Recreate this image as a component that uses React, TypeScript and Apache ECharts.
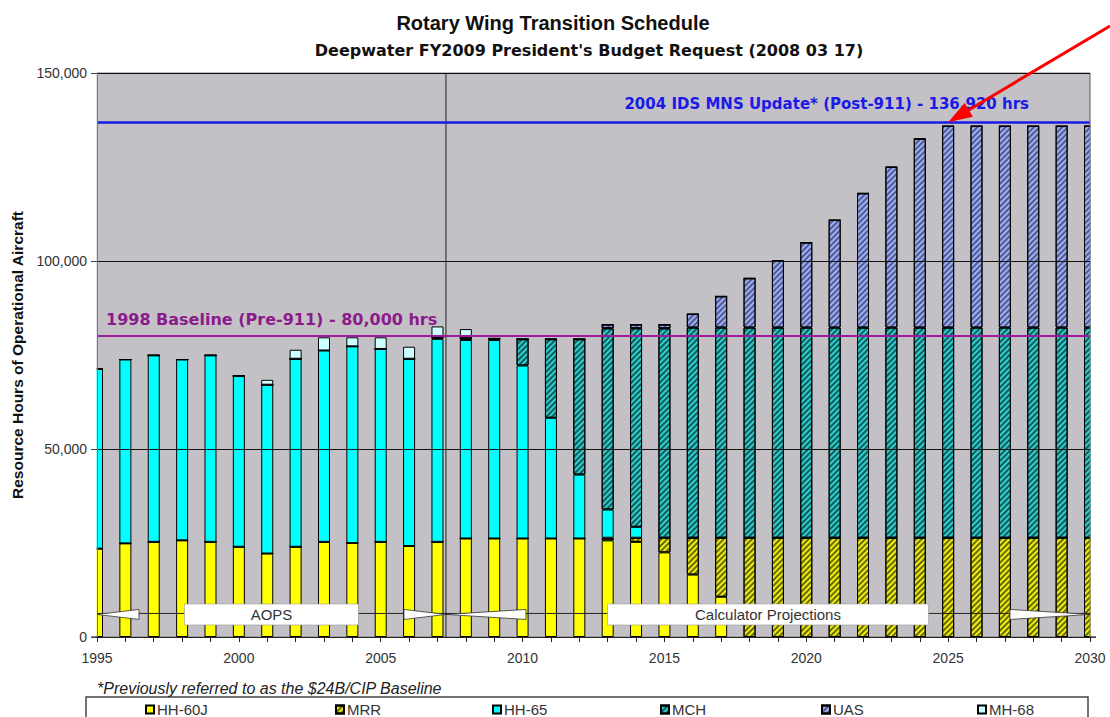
import { useEffect, useRef } from "react";
import * as echarts from "echarts";

const years = [
  1995, 1996, 1997, 1998, 1999, 2000, 2001, 2002, 2003, 2004, 2005, 2006,
  2007, 2008, 2009, 2010, 2011, 2012, 2013, 2014, 2015, 2016, 2017, 2018,
  2019, 2020, 2021, 2022, 2023, 2024, 2025, 2026, 2027, 2028, 2029, 2030,
];

const hh60j = [
  23500, 24900, 25300, 25700, 25300, 24000, 22200, 24000, 25300, 25000, 25300, 24200,
  25300, 26200, 26200, 26200, 26200, 26200, 25700, 25300, 22500, 16600, 10700, 0,
  0, 0, 0, 0, 0, 0, 0, 0, 0, 0, 0, 0,
];
const mrr = [
  0, 0, 0, 0, 0, 0, 0, 0, 0, 0, 0, 0,
  0, 0, 0, 0, 0, 0, 700, 1100, 3900, 9800, 15700, 26400,
  26400, 26400, 26400, 26400, 26400, 26400, 26400, 26400, 26400, 26400, 26400, 26400,
];
const hh65 = [
  47800, 48900, 49600, 48100, 49600, 45400, 44900, 50000, 50900, 52300, 51300, 49800,
  54000, 52800, 52800, 46000, 32100, 17000, 7500, 2900, 0, 0, 0, 0,
  0, 0, 0, 0, 0, 0, 0, 0, 0, 0, 0, 0,
];
const mch = [
  0, 0, 0, 0, 0, 0, 0, 0, 0, 0, 0, 0,
  400, 600, 400, 7000, 20900, 36000, 48200, 52800, 55700, 55900, 55900, 55900,
  55900, 55900, 55900, 55900, 55900, 55900, 55900, 55900, 55900, 55900, 55900, 55900,
];
const uas = [
  0, 0, 0, 0, 0, 0, 0, 0, 0, 0, 0, 0,
  0, 0, 0, 0, 0, 0, 1000, 1000, 1000, 3600, 8300, 13100,
  17800, 22600, 28600, 35700, 42700, 50200, 53600, 53600, 53600, 53600, 53600, 53600,
];
const mh68 = [
  0, 0, 0, 0, 0, 0, 1300, 2400, 3500, 2400, 3100, 3200,
  2900, 2300, 0, 0, 0, 0, 0, 0, 0, 0, 0, 0,
  0, 0, 0, 0, 0, 0, 0, 0, 0, 0, 0, 0,
];

const seriesNames = ["HH-60J", "MRR", "HH-65", "MCH", "UAS", "MH-68"];
const baselineValue = 80000;
const baselineText = "1998 Baseline (Pre-911) - 80,000 hrs";
const mnsValue = 136920;
const mnsText = "2004 IDS MNS Update* (Post-911) - 136,920 hrs";
const phaseBoundary = 2007.3;
const phaseNames = ["AOPS", "Calculator Projections"];
const phaseStarts = [1995, 2007.3];
const phaseEnds = [2007.3, 2030];
const phaseLevel = 6000;
const arrowTarget = [2025, 136920];
const footnote = "*Previously referred to as the $24B/CIP Baseline";

const FONT = "'Liberation Sans', Arial, sans-serif";
const BOLD2 = "'DejaVu Sans', Verdana, sans-serif";

function hatch(color: string) {
  return {
    symbol: "rect",
    symbolSize: 1,
    color,
    dashArrayX: [1, 0],
    dashArrayY: [1.2, 2],
    rotation: -Math.PI / 4,
  };
}

export default function App() {
  const ref = useRef<HTMLDivElement>(null);

  useEffect(() => {
    const chart = echarts.init(ref.current as HTMLDivElement, null, { renderer: "svg" });
    const values = [hh60j, mrr, hh65, mch, uas, mh68];
    const styles: any[] = [
      { color: "#FFFF00" },
      { color: "#EEEE10", decal: hatch("rgba(50,50,0,0.7)") },
      { color: "#00FFFF" },
      { color: "#2FCFCF", decal: hatch("rgba(0,30,30,0.65)") },
      { color: "#9DB0F2", decal: hatch("rgba(20,20,70,0.55)") },
      { color: "#CCFFFF" },
    ];
    const legendX = [145, 335, 492, 660, 821, 977];

    const series: any[] = seriesNames.map((name, i) => {
      const s: any = {
        name,
        type: "bar",
        stack: "total",
        barWidth: 12,
        xAxisIndex: 0,
        yAxisIndex: 0,
        data: values[i],
        itemStyle: { ...styles[i], borderColor: "#000", borderWidth: 1 },
        emphasis: { disabled: true },
      };
      if (i === seriesNames.length - 1) {
        s.markLine = {
          silent: true,
          symbol: ["none", "none"],
          data: [
            {
              yAxis: baselineValue,
              lineStyle: { color: "#9B1B9B", width: 2, type: "solid" },
              label: {
                show: true,
                position: "insideStartTop",
                formatter: baselineText,
                color: "#8B1A8B",
                fontSize: 16,
                fontWeight: "bold",
                fontFamily: BOLD2,
                distance: 9,
                padding: [0, 0, 0, 0],
              },
            },
            {
              yAxis: mnsValue,
              lineStyle: { color: "#1A1AE6", width: 2.5, type: "solid" },
              label: {
                show: true,
                position: "insideEndTop",
                formatter: mnsText,
                color: "#1A1AE6",
                fontSize: 15,
                fontWeight: "bold",
                fontFamily: BOLD2,
                distance: 11,
                padding: [0, 50, 0, 0],
              },
            },
          ],
        };
      }
      return s;
    });

    const option: any = {
      animation: false,
      backgroundColor: "#fff",
      title: [
        {
          text: "Rotary Wing Transition Schedule",
          left: 548,
          top: 8,
          textAlign: "center",
          textStyle: { fontSize: 20, fontWeight: "bold", fontFamily: FONT, color: "#111" },
        },
        {
          text: "Deepwater FY2009 President's Budget Request (2008 03 17)",
          left: 584,
          top: 37,
          textAlign: "center",
          textStyle: { fontSize: 16, fontWeight: "bold", fontFamily: BOLD2, color: "#111" },
        },
      ],
      legend: seriesNames.map((n, i) => ({
        data: [n],
        left: legendX[i],
        top: 702,
        padding: 0,
        icon: "rect",
        itemWidth: 8,
        itemHeight: 8,
        selectedMode: false,
        textStyle: { fontSize: 15, fontFamily: FONT, color: "#333", padding: [0, 0, 0, -2] },
      })),
      grid: {
        left: 97,
        right: 20,
        top: 73,
        bottom: 80,
        show: true,
        backgroundColor: "#C3C1C6",
        borderColor: "#7A7A7A",
        borderWidth: 1,
      },
      xAxis: [
        {
          type: "category",
          data: years.map(String),
          boundaryGap: false,
          z: 10,
          axisLine: { show: true, lineStyle: { color: "#222" } },
          axisTick: { show: true, interval: 0, length: 5, lineStyle: { color: "#222" } },
          splitLine: { show: false },
          axisLabel: {
            interval: 4,
            fontSize: 14,
            fontFamily: FONT,
            color: "#333",
            margin: 14,
          },
        },
        {
          type: "value",
          min: 1995,
          max: 2030,
          show: false,
          splitLine: { show: false },
        },
      ],
      yAxis: {
        type: "value",
        min: 0,
        max: 150000,
        interval: 50000,
        z: 10,
        name: "Resource Hours of Operational Aircraft",
        nameLocation: "middle",
        nameRotate: 90,
        nameGap: 71,
        nameTextStyle: { fontSize: 15.5, fontWeight: "bold", fontFamily: FONT, color: "#111" },
        axisLine: { show: true, lineStyle: { color: "#777" } },
        axisTick: { show: true, length: 6, lineStyle: { color: "#444" } },
        splitLine: { show: true, lineStyle: { color: "#111", width: 1 } },
        axisLabel: {
          formatter: (v: number) => v.toLocaleString("en-US"),
          fontSize: 14,
          fontFamily: FONT,
          color: "#333",
          margin: 10,
        },
      },
      series,
    };

    chart.setOption(option);

    const px = (x: number) => chart.convertToPixel({ xAxisIndex: 1 }, x) as number;
    const py = (y: number) => chart.convertToPixel({ yAxisIndex: 0 }, y) as number;

    const gLeft = px(1995);
    const gRight = px(2030);
    const gTop = py(150000);
    const gBottom = py(0);

    const graphics: any[] = [];
    // white masks so that the edge bars are cut at the plot border
    graphics.push({
      type: "rect",
      z: 5,
      shape: { x: gLeft - 9, y: gTop, width: 8.6, height: gBottom - gTop - 0.5 },
      style: { fill: "#fff" },
    });
    graphics.push({
      type: "rect",
      z: 5,
      shape: { x: gRight + 0.6, y: gTop, width: 10, height: gBottom - gTop - 0.5 },
      style: { fill: "#fff" },
    });
    graphics.push({
      type: "line",
      z: 6,
      shape: { x1: gRight, y1: gTop, x2: gRight, y2: gBottom },
      style: { stroke: "#7A7A7A", lineWidth: 1 },
    });
    // phase boundary (vertical line)
    const vx = px(phaseBoundary);
    graphics.push({
      type: "line",
      z: 1,
      shape: { x1: vx, y1: gTop, x2: vx, y2: gBottom },
      style: { stroke: "#222", lineWidth: 1 },
    });
    // legend frame
    graphics.push({
      type: "rect",
      z: 0,
      shape: { x: 86, y: 697, width: 1002, height: 40 },
      style: { fill: "none", stroke: "#444", lineWidth: 1.5 },
    });
    // footnote
    graphics.push({
      type: "text",
      x: 97,
      y: 688,
      style: {
        text: footnote,
        font: `italic 16px ${FONT}`,
        fill: "#222",
        textVerticalAlign: "middle",
      },
    });

    const headLens = [42, 80];
    const boxWidths = [174, 321];
    phaseNames.forEach((name, i) => {
      const x0 = px(phaseStarts[i]);
      const x1 = px(phaseEnds[i]);
      const yy = py(phaseLevel);
      const L = headLens[i];
      const cx = (x0 + x1) / 2;
      const W = boxWidths[i];
      graphics.push({
        type: "line",
        z: 20,
        shape: { x1: x0, y1: yy - 1, x2: x1, y2: yy - 1 },
        style: { stroke: "#222", lineWidth: 1 },
      });
      graphics.push({
        type: "polygon",
        z: 21,
        shape: { points: [[x0, yy], [x0 + L, yy - 5], [x0 + L, yy + 5]] },
        style: { fill: "#fff", stroke: "#333", lineWidth: 0.8 },
      });
      graphics.push({
        type: "polygon",
        z: 21,
        shape: { points: [[x1, yy], [x1 - L, yy - 5], [x1 - L, yy + 5]] },
        style: { fill: "#fff", stroke: "#333", lineWidth: 0.8 },
      });
      graphics.push({
        type: "rect",
        z: 22,
        shape: { x: cx - W / 2, y: yy - 10.5, width: W, height: 21 },
        style: { fill: "#fff", stroke: "#999", lineWidth: 0.6 },
      });
      graphics.push({
        type: "text",
        z: 23,
        x: cx,
        y: yy + 0.5,
        style: {
          text: name,
          font: `15px ${FONT}`,
          fill: "#333",
          textAlign: "center",
          textVerticalAlign: "middle",
        },
      });
    });

    // red arrow
    const tx = px(arrowTarget[0]);
    const ty = py(arrowTarget[1]);
    const sx = 1110;
    const sy = 26;
    const dx = tx - sx;
    const dy = ty - sy;
    const len = Math.sqrt(dx * dx + dy * dy);
    const ux = dx / len;
    const uy = dy / len;
    const headL = 24;
    const headW = 8;
    const bx = tx - ux * headL;
    const by = ty - uy * headL;
    graphics.push({
      type: "line",
      z: 30,
      shape: { x1: sx, y1: sy, x2: bx + ux * 2, y2: by + uy * 2 },
      style: { stroke: "#FF0000", lineWidth: 3 },
    });
    graphics.push({
      type: "polygon",
      z: 30,
      shape: {
        points: [
          [tx, ty],
          [bx - uy * headW, by + ux * headW],
          [bx + uy * headW, by - ux * headW],
        ],
      },
      style: { fill: "#FF0000" },
    });

    chart.setOption({ graphic: graphics });

    return () => chart.dispose();
  }, []);

  return (
    <div
      ref={ref}
      style={{ position: "fixed", left: 0, top: 0, width: 1110, height: 717, background: "#fff" }}
    />
  );
}
